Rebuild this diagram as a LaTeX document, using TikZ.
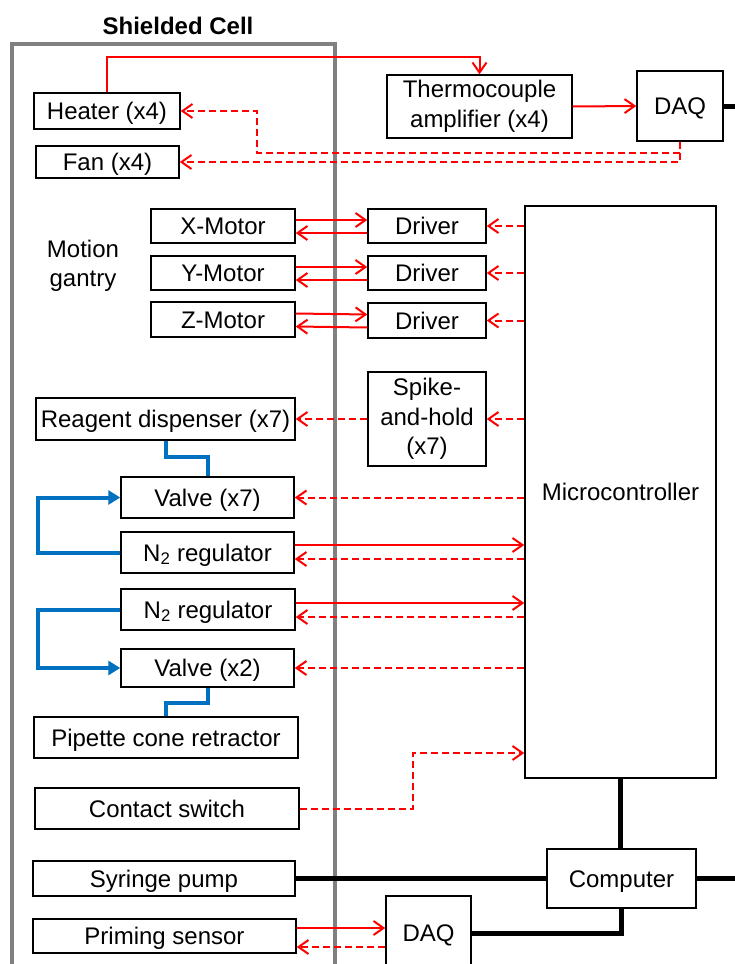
\documentclass[tikz,border=0pt]{standalone}
\usepackage{fontspec}
\setmainfont{Liberation Sans}
\usetikzlibrary{arrows.meta,calc}
\definecolor{sigred}{RGB}{255,0,0}
\definecolor{flowblue}{RGB}{0,112,192}
\definecolor{cellgray}{RGB}{128,128,128}
\begin{document}
\begin{tikzpicture}[x=1pt,y=-1pt,
  font=\fontsize{24}{29.5}\selectfont,
  mbox/.style={draw=black, line width=1.5pt, inner sep=0pt, align=center, fill=white},
  box/.style={mbox, text height=17.2pt, text depth=0pt},
  sig/.style={draw=sigred, line width=2pt, -{Straight Barb[length=10pt,width=14pt]}},
  sigd/.style={sig, dash pattern=on 7pt off 4pt},
  flow/.style={draw=flowblue, line width=4pt},
  flowarrow/.style={flow, -{Triangle[length=12pt,width=14pt]}},
  bus/.style={draw=black, line width=5pt},
]
\useasboundingbox (0,0) rectangle (735,964);
\clip (0,0) rectangle (735,964);

% shielded cell
\draw[cellgray, line width=4pt] (12,990) |- (335,44) -- (335,990);
\node[font=\fontsize{24}{29}\selectfont\bfseries, text height=17.2pt, text depth=0pt] (title) at (178,26) {Shielded Cell};

% boxes
\node[box, minimum width=146, minimum height=36] (heater) at (107,111) {Heater (x4)};
\node[box, minimum width=143, minimum height=32] (fan) at (107.5,162) {Fan (x4)};
\node[mbox, minimum width=185, minimum height=63] (thermo) at (479.5,106.5) {Thermocouple\\amplifier (x4)};
\node[box, minimum width=86, minimum height=70] (daqa) at (680,106) {DAQ};

\node[align=center] (gantry) at (83,266) {Motion\\gantry};
\node[box, minimum width=144, minimum height=34] (xm) at (223,226) {X-Motor};
\node[box, minimum width=144, minimum height=34] (ym) at (223,273) {Y-Motor};
\node[box, minimum width=144, minimum height=35] (zm) at (223,319.5) {Z-Motor};
\node[box, minimum width=118, minimum height=34] (dx) at (427,226) {Driver};
\node[box, minimum width=118, minimum height=34] (dy) at (427,273) {Driver};
\node[box, minimum width=118, minimum height=35] (dz) at (427,320.5) {Driver};

\node[mbox, minimum width=118, minimum height=94] (spike) at (427,419) {Spike-\\and-hold\\(x7)};
\node[box, minimum width=259, minimum height=42] (reagent) at (165.5,419) {Reagent dispenser (x7)};
\node[box, minimum width=191, minimum height=572] (micro) at (620.5,492) {Microcontroller};

\node[box, minimum width=173, minimum height=41] (valvea) at (207.5,497.5) {Valve (x7)};
\node[box, minimum width=173, minimum height=41] (rega) at (207.5,552.5) {N\textsubscript{2} regulator};
\node[box, minimum width=174, minimum height=41] (regb) at (208,609.5) {N\textsubscript{2} regulator};
\node[box, minimum width=173, minimum height=38] (valveb) at (207.5,668) {Valve (x2)};
\node[box, minimum width=264, minimum height=41] (pipette) at (166,737.5) {Pipette cone retractor};
\node[box, minimum width=264, minimum height=41] (contact) at (167,808.5) {Contact switch};
\node[box, minimum width=262, minimum height=35] (syringe) at (164,878.5) {Syringe pump};
\node[box, minimum width=263, minimum height=34] (priming) at (164.5,936) {Priming sensor};
\node[box, minimum width=149, minimum height=59] (computer) at (621.5,878.5) {Computer};
\node[box, minimum width=85, minimum height=74] (daqb) at (428.5,933) {DAQ};

% coordinates
\coordinate (t1) at (300,57);
\coordinate (br) at (680,153);
\coordinate (hk) at (257,111);
\coordinate (edgeA) at (735,106);
\coordinate (edgeB) at (735,878.5);
\coordinate (cs) at (413,753);
\coordinate (r1) at (186,457);
\coordinate (l1) at (38,520);
\coordinate (l2) at (38,640);
\coordinate (p1) at (186,703);

% heater / fan loop
\draw[sig] (heater.north) |- (t1) -| (thermo.north);
\draw[sig] (thermo.east) -- (daqa.west);
\draw[sigd] (daqa.south) |- (fan.east);
\draw[sigd] (br) -| (hk) -- (heater.east);
\draw[bus] (daqa.east) -- (edgeA);

% motors
\foreach \m/\d in {xm/dx, ym/dy, zm/dz}{
  \draw[sig] ($(\m.east)+(0,-6)$) -- ($(\d.west)+(0,-6)$);
  \draw[sig] ($(\d.west)+(0,7)$) -- ($(\m.east)+(0,7)$);
  \draw[sigd] (micro.west |- \d.east) -- (\d.east);
}

% spike and hold
\draw[sigd] (micro.west |- spike.east) -- (spike.east);
\draw[sigd] (spike.west) -- (reagent.east);

% valves and regulators
\draw[sigd] (micro.west |- valvea.east) -- (valvea.east);
\coordinate (ra1) at ($(rega.east)+(0,-7.5)$);
\coordinate (ra2) at ($(rega.east)+(0,6.5)$);
\draw[sig] (ra1) -- (ra1 -| micro.west);
\draw[sigd] (ra2 -| micro.west) -- (ra2);
\coordinate (rb1) at ($(regb.east)+(0,-6.5)$);
\coordinate (rb2) at ($(regb.east)+(0,7.5)$);
\draw[sig] (rb1) -- (rb1 -| micro.west);
\draw[sigd] (rb2 -| micro.west) -- (rb2);
\draw[sigd] (micro.west |- valveb.east) -- (valveb.east);

% contact switch
\draw[sigd] (contact.east) -| (cs) -- (cs -| micro.west);

% priming sensor
\coordinate (ps1) at ($(priming.east)+(0,-8)$);
\coordinate (ps2) at ($(priming.east)+(0,11)$);
\draw[sig] (ps1) -- (ps1 -| daqb.west);
\draw[sigd] (ps2 -| daqb.west) -- (ps2);

% blue fluid lines
\draw[flow] (reagent.south) |- (r1) -| (valvea.north);
\draw[flowarrow] (rega.west) -| (l1) |- (valvea.west);
\draw[flowarrow] (regb.west) -| (l2) |- (valveb.west);
\draw[flow] (valveb.south) |- (p1) -| (pipette.north);

% black data lines
\draw[bus] (micro.south) -- (micro.south |- computer.north);
\draw[bus] (syringe.east) -- (computer.west);
\draw[bus] (computer.east) -- (edgeB);
\draw[bus] (computer.south) |- (daqb.east);
\end{tikzpicture}
\end{document}
